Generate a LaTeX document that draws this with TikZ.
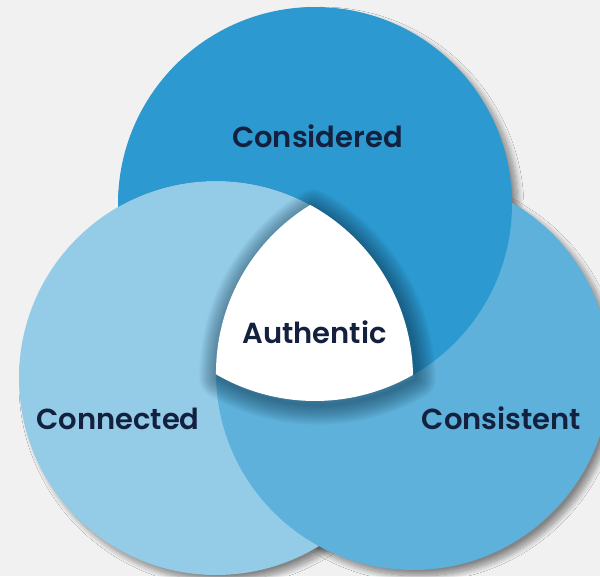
\documentclass[tikz,border=0pt]{standalone}
\usepackage{fontspec}
\setmainfont{Poppins}
\newfontfamily\lblfont{Poppins SemiBold}
\usetikzlibrary{shadows.blur}
\definecolor{bgc}{HTML}{F1F1F1}
\definecolor{topc}{HTML}{2C9AD0}
\definecolor{rightc}{HTML}{5EB1DA}
\definecolor{leftc}{HTML}{94CCE8}
\definecolor{txtc}{HTML}{13213F}
\definecolor{shadc}{HTML}{0A2A40}
\tikzset{
  circshadow/.style={blur shadow={shadow xshift=6pt, shadow yshift=-6pt, shadow blur radius=6pt, shadow blur steps=14, shadow opacity=45}},
  halo/.style={draw=shadc, draw opacity=0.032, line join=round},
  lbl/.style={anchor=base, text=txtc, font=\lblfont\fontsize{29}{34}\selectfont, inner sep=0pt},
}
\begin{document}
\begin{tikzpicture}[x=1pt,y=1pt]
\useasboundingbox (0,0) rectangle (600,576);
\fill[bgc] (0,0) rectangle (600,576);
\coordinate (Tc) at (315,372);
\coordinate (Lc) at (216,198);
\coordinate (Rc) at (413,203);
% shadows on background
\path[circshadow] (Lc) circle[radius=197pt];
\path[circshadow] (Rc) circle[radius=197pt];
\path[circshadow] (Tc) circle[radius=197pt];
% circles, cyclic overlap: right over left, top over right, left over top
\fill[leftc] (Lc) circle[radius=197pt];
\fill[rightc] (Rc) circle[radius=197pt];
\begin{scope}[even odd rule]
  \clip (-100,-100) rectangle (700,700) (Lc) circle[radius=197pt];
  \fill[topc] (Tc) circle[radius=197pt];
\end{scope}
% soft halo around the central region
\foreach \k in {1,...,18} {
  \draw[halo, shift={(3,-4)}, line width={2.2*\k}] (310.17,371.04)
    arc[start angle=121.46, end angle=180.38, radius=197pt]
    arc[start angle=239.83, end angle=299.83, radius=197pt]
    arc[start angle=0.90, end angle=61.45, radius=197pt] -- cycle;
}
% central region
\fill[white] (310.17,371.04)
  arc[start angle=121.46, end angle=180.38, radius=197pt]
  arc[start angle=239.83, end angle=299.83, radius=197pt]
  arc[start angle=0.90, end angle=61.45, radius=197pt] -- cycle;
% labels
\node[lbl] (considered) at (317.5,428.7) {Considered};
\node[lbl] (authentic) at (314.5,232.7) {Authentic};
\node[lbl] (connected) at (118,146) {Connected};
\node[lbl] (consistent) at (501.5,146) {Consistent};
\end{tikzpicture}
\end{document}
